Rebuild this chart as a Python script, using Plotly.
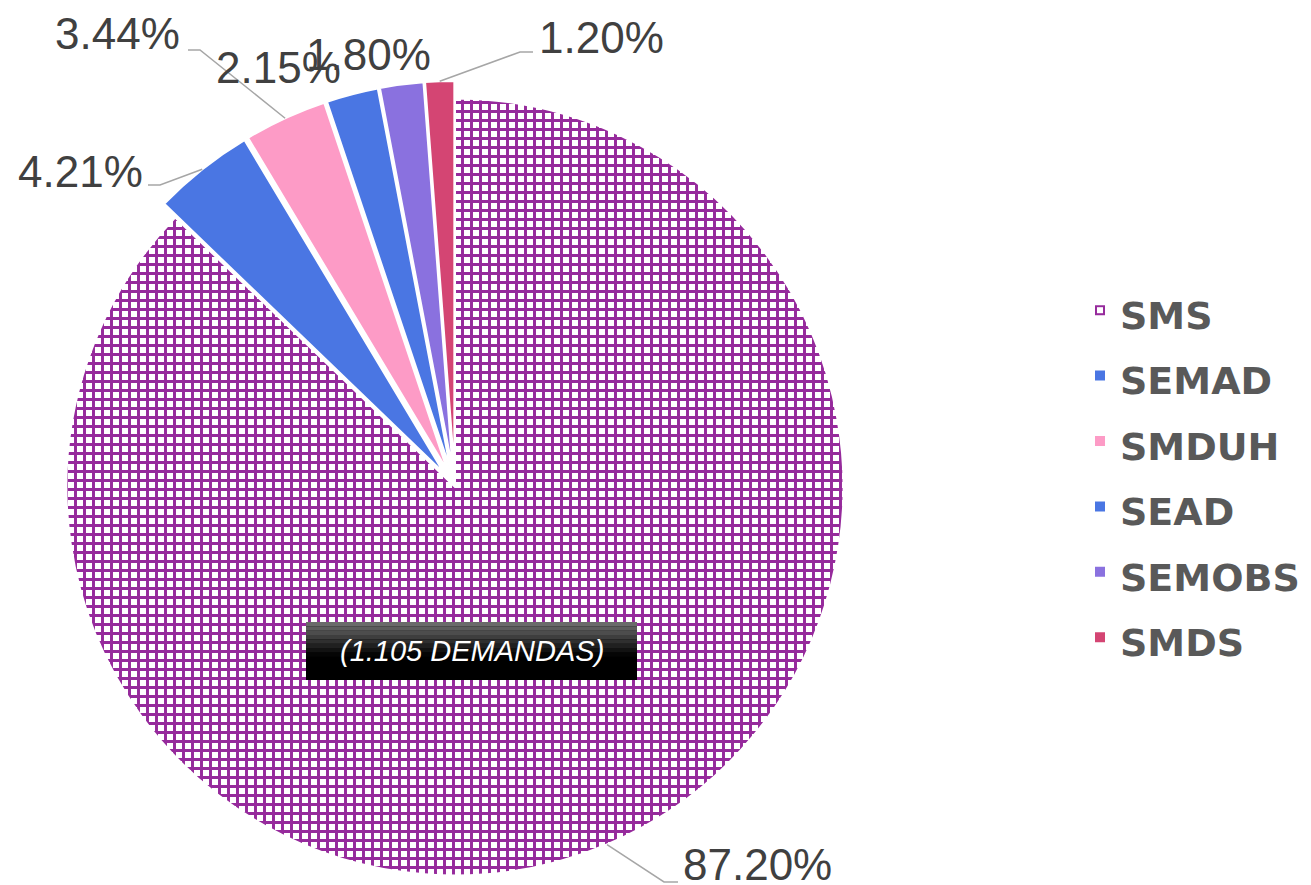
import math
import plotly.graph_objects as go

labels = ["SMS", "SEMAD", "SMDUH", "SEAD", "SEMOBS", "SMDS"]
values = [87.20, 4.21, 3.44, 2.15, 1.80, 1.20]
value_text = ["87.20%", "4.21%", "3.44%", "2.15%", "1.80%", "1.20%"]
colors = ["#ffffff", "#4a76e3", "#fd9bc6", "#4a76e3", "#8a71df", "#d44573"]
pulls = [0, 0.045, 0.045, 0.045, 0.045, 0.045]
note = "(1.105 DEMANDAS)"

W, H = 1311, 885
OFF = 8  # the page puts the figure 8px in from the top-left corner
CX, CY = 455, 487  # pie centre in page pixels
TOP = 2 * (CY - OFF) - H
PH = H - TOP
R = PH / 2 / (1 + max(pulls))


def px(x):
    return (x - OFF) / W


def py(y):
    return (H - (y - OFF)) / PH


# label text centres and leader elbows (page pixels), one per slice
label_xy = [(757, 864), (80, 172), (118, 33), (278, 67), (368, 55), (601, 38)]
elbows = [[(664, 882), (678, 882)], [(160, 185), (148, 185)],
          [(200, 50), (188, 50)], None, None, [(520, 52), (533, 52)]]

legend_names = [f"<span style='font-size:38px'>{n}</span>" for n in labels]

fig = go.Figure(go.Pie(
    labels=legend_names,
    values=values,
    sort=False,
    direction="clockwise",
    rotation=0,
    pull=pulls,
    textinfo="none",
    hoverinfo="percent",
    domain=dict(x=[px(CX) - PH / 2 / W, px(CX) + PH / 2 / W], y=[0, 1]),
    marker=dict(
        colors=colors,
        line=dict(color="white", width=2),
        pattern=dict(
            shape=["+", "", "", "", "", ""],
            fgcolor=["#962a9c"] * 6,
            bgcolor=colors,
            size=9,
            solidity=0.55,
            fillmode="replace",
        ),
    ),
))

# data labels with leader lines, anchored at each slice's outer edge
total = sum(values)
cum = 0
for i, v in enumerate(values):
    mid = (cum + v / 2) / total * 2 * math.pi
    cum += v
    rr = R * (1 + pulls[i])
    ax, ay = CX + rr * math.sin(mid), CY - rr * math.cos(mid)
    lx, ly = label_xy[i]
    fig.add_annotation(x=px(lx), y=py(ly), xref="paper", yref="paper",
                       xanchor="center", yanchor="middle",
                       text=value_text[i], showarrow=False,
                       font=dict(family="Liberation Sans, Arial", size=44, color="#404040"))
    if elbows[i]:
        pts = [(ax, ay)] + elbows[i]
        path = "M " + " L ".join(f"{px(x)} {py(y)}" for x, y in pts)
        fig.add_shape(type="path", path=path, xref="paper", yref="paper",
                      line=dict(color="#a6a6a6", width=1.5))

# dark gradient box behind the note
bx0, bx1, by0, by1 = 306, 637, 622, 680
bands = ["#6a6a6a", "#5c5c5c", "#4d4d4d", "#3e3e3e", "#2f2f2f", "#202020", "#121212", "#050505"]
step = (by1 - by0) * 0.6 / len(bands)
fig.add_shape(type="rect", xref="paper", yref="paper", x0=px(bx0), x1=px(bx1),
              y0=py(by0), y1=py(by1), fillcolor="#000000", line=dict(width=0))
for k, c in enumerate(bands):
    fig.add_shape(type="rect", xref="paper", yref="paper", x0=px(bx0), x1=px(bx1),
                  y0=py(by0 + k * step), y1=py(by0 + (k + 1) * step),
                  fillcolor=c, line=dict(width=0))
fig.add_annotation(x=px((bx0 + bx1) / 2), y=py((by0 + by1) / 2), xref="paper", yref="paper",
                   xanchor="center", yanchor="middle",
                   text=note, showarrow=False,
                   font=dict(family="Liberation Sans, Arial", size=29, color="white", style="italic"))

fig.update_layout(
    width=W, height=H,
    margin=dict(l=0, r=0, t=TOP, b=0),
    paper_bgcolor="white",
    plot_bgcolor="white",
    showlegend=True,
    legend=dict(
        x=px(1080), y=py(474), xanchor="left", yanchor="middle",
        font=dict(family="DejaVu Sans", size=48, color="#595959", weight="bold"),
        bgcolor="rgba(0,0,0,0)",
    ),
)

fig.write_html("out.html")
